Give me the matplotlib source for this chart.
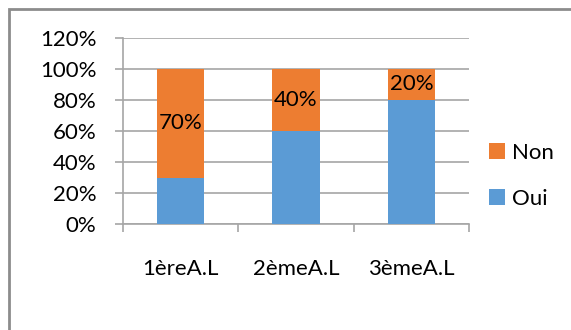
import matplotlib
matplotlib.use("Agg")
import matplotlib.pyplot as plt
from matplotlib.patches import Rectangle

categories = ["1èreA.L", "2èmeA.L", "3èmeA.L"]
oui = [30, 60, 80]
non = [70, 40, 20]
yticks = [0, 20, 40, 60, 80, 100, 120]

plt.rcParams['font.family'] = ['Lato', 'DejaVu Sans']

BLUE = "#5B9BD5"
ORANGE = "#ED7D31"
GRID = "#A6A6A6"
FS = 16

fig = plt.figure(figsize=(5.71, 3.30), dpi=100)
ax = fig.add_axes([123/571, 1 - 224/330, (469-123)/571, (224-38)/330])

x = list(range(len(categories)))
width = 0.41
ax.bar(x, oui, width, color=BLUE, label="Oui", zorder=3)
ax.bar(x, non, width, bottom=oui, color=ORANGE, label="Non", zorder=3)

for xi, b, v in zip(x, oui, non):
    ax.text(xi, b + v / 2, f"{v}%", ha="center", va="center", fontsize=FS,
            color="black", zorder=4)

ax.set_xlim(-0.5, len(categories) - 0.5)
ax.set_ylim(0, 120)
ax.set_yticks(yticks)
ax.set_yticklabels([f"{t}%" for t in yticks], fontsize=FS)
ax.yaxis.grid(True, color=GRID, linewidth=1.2, zorder=0)
ax.tick_params(axis="y", length=6, width=1.2, color=GRID, pad=13)

# category ticks sit on the boundaries between groups
ax.set_xticks([i - 0.5 for i in range(len(categories) + 1)], minor=False)
ax.set_xticklabels([])
ax.set_xticks(x, minor=True)
ax.set_xticklabels(categories, minor=True, fontsize=FS)
ax.tick_params(axis="x", which="major", length=6, width=1.2, color=GRID)
ax.tick_params(axis="x", which="minor", length=0, pad=25)

for side in ["top", "right"]:
    ax.spines[side].set_visible(False)
for side in ["left", "bottom"]:
    ax.spines[side].set_color(GRID)
    ax.spines[side].set_linewidth(1.2)

handles, labels = ax.get_legend_handles_labels()
leg = fig.legend(handles[::-1], labels[::-1], loc="upper left",
                 bbox_to_anchor=(469/571, 1 - 123/330), frameon=False,
                 fontsize=FS, handlelength=0.7, handleheight=0.7,
                 handletextpad=0.35, labelspacing=1.15)

# outer chart frame
fig.patches.append(Rectangle((9/571, -0.1), 1.2, 1 - 9/330 + 0.1,
                             transform=fig.transFigure, fill=False,
                             edgecolor="#8C8C8C", linewidth=2))

fig.savefig("out.png", dpi=100)
